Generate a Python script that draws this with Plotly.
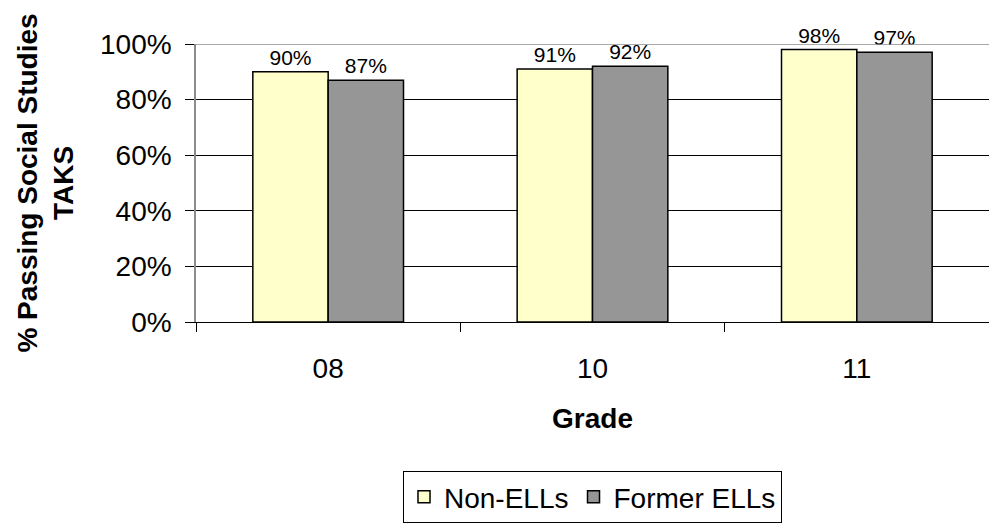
import plotly.graph_objects as go

grades = ["08", "10", "11"]
non_ells = [0.90, 0.91, 0.98]
former_ells = [0.87, 0.92, 0.97]
series_names = ["Non-ELLs", "Former ELLs"]
y_ticks = [0, 0.2, 0.4, 0.6, 0.8, 1.0]
y_tick_labels = ["0%", "20%", "40%", "60%", "80%", "100%"]

FONT = "Liberation Sans, Arial, sans-serif"

fig = go.Figure()
for name, vals, color in [
    (series_names[0], non_ells, "#FFFFCC"),
    (series_names[1], former_ells, "#969696"),
]:
    fig.add_trace(go.Bar(
        x=grades, y=vals, name=name,
        marker=dict(color=color, line=dict(color="black", width=1.5)),
        text=[f"{round(v * 100)}%" for v in vals],
        textposition="outside",
        textfont=dict(size=21, color="black", family=FONT),
        cliponaxis=False,
    ))

# thin grey frame line along the top of the plot area
fig.add_shape(type="line", xref="paper", yref="y", x0=0, x1=1, y0=1, y1=1,
              line=dict(color="#8c8c8c", width=1.5))

fig.update_layout(
    width=989, height=523,
    margin=dict(l=196, r=0, t=44, b=199),
    paper_bgcolor="white", plot_bgcolor="white",
    barmode="group", bargap=0.43, bargroupgap=0,
    font=dict(family=FONT, size=28, color="black"),
    showlegend=True,
    legend=dict(
        orientation="h", x=0.5, xanchor="center", y=-0.536, yanchor="top",
        bordercolor="black", borderwidth=1, bgcolor="white",
        font=dict(size=28, family=FONT), traceorder="normal",
        itemwidth=30,
    ),
    xaxis=dict(
        showline=True, linecolor="black", linewidth=1,
        ticks="outside", tickson="boundaries", ticklen=9, tickcolor="black",
        tickfont=dict(size=28), showgrid=False, ticklabelstandoff=21,
        title=dict(text="<b>Grade</b>", font=dict(size=28), standoff=25),
    ),
    yaxis=dict(
        range=[0, 1], tickvals=y_ticks, ticktext=y_tick_labels,
        showline=True, linecolor="#8c8c8c", linewidth=1.5,
        ticks="outside", ticklen=9, tickcolor="black",
        showgrid=True, gridcolor="black", gridwidth=1,
        zeroline=False, tickfont=dict(size=28), ticklabelstandoff=8,
        title=dict(text="<b>% Passing Social Studies<br>TAKS</b>",
                   font=dict(size=28), standoff=18),
    ),
)

fig.write_html("out.html")
